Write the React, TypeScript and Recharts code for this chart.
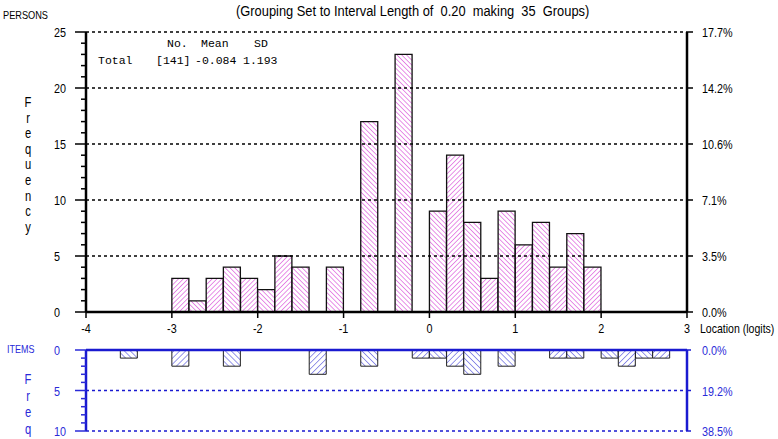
import React from 'react';
import { BarChart, Bar, XAxis, YAxis, Cell, ReferenceLine } from 'recharts';

// ---- data ----
const BIN_START = -4;
const BIN_WIDTH = 0.2;
// 35 groups, lower edges -4.0, -3.8, ... 2.8
const personCounts = [
  0, 0, 0, 0, 0, 3, 1, 3, 4, 3, 2, 5, 4, 0, 4, 0, 17, 0, 23, 0,
  9, 14, 8, 3, 9, 6, 8, 4, 7, 4, 0, 0, 0, 0, 0,
];
const itemCounts = [
  0, 0, 1, 0, 0, 2, 0, 0, 2, 0, 0, 0, 0, 3, 0, 0, 2, 0, 0, 1,
  1, 2, 3, 0, 2, 0, 0, 1, 1, 0, 1, 2, 1, 1, 0,
];
const xTicks = [-4, -3, -2, -1, 0, 1, 2, 3];
const personTicks = Array.from({ length: 26 }, (_, i) => i);
const personMajor = [0, 5, 10, 15, 20, 25];
const itemTicks = Array.from({ length: 11 }, (_, i) => i);
const itemMajor = [0, 5, 10];
const titleText = '(Grouping Set to Interval Length of  0.20  making  35  Groups)';
const statsHeader = [
  { t: 'No.', x: 167 },
  { t: 'Mean', x: 201 },
  { t: 'SD', x: 254 },
];
const statsRow = [
  { t: 'Total', x: 98 },
  { t: '[141]', x: 156 },
  { t: '-0.084', x: 195 },
  { t: '1.193', x: 243 },
];
const freqLetters = ['F', 'r', 'e', 'q', 'u', 'e', 'n', 'c', 'y'];
const freqShort = ['F', 'r', 'e', 'q'];

const totalPersons = personCounts.reduce((a, b) => a + b, 0);
const totalItems = itemCounts.reduce((a, b) => a + b, 0);

const rows = personCounts.map((c, i) => ({
  x: +(BIN_START + BIN_WIDTH * (i + 0.5)).toFixed(2),
  persons: c > 0 ? c : null,
  items: itemCounts[i] > 0 ? itemCounts[i] : null,
}));

// ---- styles ----
const SANS = '"Liberation Sans", Arial, sans-serif';
const MONO = '"Liberation Mono", "Courier New", monospace';
const BLUE = '#1a1ad0';
const BLUE_TEXT = '#2a2ad8';
const MAGENTA = '#d438d4';
const SQUEEZE = 0.8;
const FS = 13.5;

const NarrowText = ({ x, y, anchor, fill, children, dy = 0 }: any) => (
  <text
    x={0}
    y={0}
    dy={dy}
    transform={`translate(${x},${y}) scale(${SQUEEZE},1)`}
    textAnchor={anchor}
    fill={fill}
    fontSize={FS}
    fontFamily={SANS}
  >
    {children}
  </text>
);

const makeLeftTick = (major: number[], color: string) => (props: any) => {
  const { x, y, payload } = props;
  const v = payload.value;
  const isMajor = major.includes(v);
  return (
    <g>
      <line x1={x - (isMajor ? 11 : 5)} x2={x} y1={y} y2={y} stroke={color} strokeWidth={1.5} />
      {isMajor && (
        <NarrowText x={x - 32} y={y} dy={5} anchor="start" fill={color}>
          {v}
        </NarrowText>
      )}
    </g>
  );
};

const makeRightTick = (color: string, fmt: (v: number) => string) => (props: any) => {
  const { x, y, payload } = props;
  return (
    <NarrowText x={x} y={y} dy={5} anchor="start" fill={color}>
      {fmt(payload.value)}
    </NarrowText>
  );
};

const bottomTick = (props: any) => {
  const { x, y, payload } = props;
  return (
    <NarrowText x={x} y={y} dy={11} anchor="middle" fill="#000">
      {payload.value}
    </NarrowText>
  );
};

const Hatch = ({ id, color, dir, gap, w }: { id: string; color: string; dir: number; gap: number; w: number }) => (
  <pattern id={id} patternUnits="userSpaceOnUse" width={gap} height={gap} patternTransform={`rotate(${dir})`}>
    <rect x={0} y={0} width={gap} height={gap} fill="#fff" />
    <line x1={0} y1={0} x2={0} y2={gap} stroke={color} strokeWidth={w} />
  </pattern>
);

const abs = (left: number, top: number, extra: React.CSSProperties = {}): React.CSSProperties => ({
  position: 'absolute',
  left,
  top,
  whiteSpace: 'pre',
  ...extra,
});

const narrowDiv = (left: number, top: number, size: number, color: string, scale = SQUEEZE): React.CSSProperties =>
  abs(left, top, {
    fontFamily: SANS,
    fontSize: size,
    lineHeight: `${size + 2}px`,
    color,
    transform: `scaleX(${scale})`,
    transformOrigin: '0 0',
  });

const pctPersons = (v: number) => ((v / totalPersons) * 100).toFixed(1) + '%';
const pctItems = (v: number) => ((v / totalItems) * 100).toFixed(1) + '%';

export default function App() {
  return (
    <div style={{ position: 'absolute', left: 0, top: 0, width: 778, height: 439, overflow: 'hidden', background: '#fff' }}>
      {/* Top chart: persons */}
      <div style={{ position: 'absolute', left: 0, top: 0 }}>
        <BarChart width={778} height={340} data={rows} margin={{ top: 32, right: 0, bottom: 0, left: 0 }} barCategoryGap={0} barGap={0}>
          <defs>
            <Hatch id="pUp" color={MAGENTA} dir={45} gap={3.4} w={1.1} />
            <Hatch id="pDown" color={MAGENTA} dir={-45} gap={3.4} w={1.1} />
          </defs>
          <XAxis
            dataKey="x"
            type="number"
            domain={[-4, 3]}
            ticks={xTicks}
            interval={0}
            allowDataOverflow
            height={28}
            tickSize={6}
            tickMargin={4}
            axisLine={{ stroke: '#000', strokeWidth: 2.5 }}
            tickLine={{ stroke: '#000', strokeWidth: 1.5 }}
            tick={bottomTick}
          />
          <YAxis
            yAxisId="left"
            domain={[0, 25]}
            ticks={personTicks}
            interval={0}
            allowDataOverflow
            width={86}
            tickSize={0}
            tickMargin={0}
            axisLine={{ stroke: '#000', strokeWidth: 2.5 }}
            tickLine={false}
            tick={makeLeftTick(personMajor, '#000')}
          />
          <YAxis
            yAxisId="right"
            orientation="right"
            domain={[0, 25]}
            ticks={personMajor}
            interval={0}
            allowDataOverflow
            width={91}
            tickSize={6}
            tickMargin={9}
            axisLine={{ stroke: '#000', strokeWidth: 2.5 }}
            tickLine={{ stroke: '#000', strokeWidth: 1.5 }}
            tick={makeRightTick('#000', pctPersons)}
          />
          <Bar yAxisId="left" dataKey="persons" isAnimationActive={false} stroke="#111" strokeWidth={1.3}>
            {rows.map((r, i) => (
              <Cell key={i} fill={i % 2 ? 'url(#pUp)' : 'url(#pDown)'} />
            ))}
          </Bar>
          {personMajor.slice(1).map((v) => (
            <ReferenceLine key={v} yAxisId="left" y={v} stroke="#000" strokeWidth={1.3} strokeDasharray="3 3" />
          ))}
        </BarChart>
      </div>

      {/* Bottom chart: items */}
      <div style={{ position: 'absolute', left: 0, top: 340 }}>
        <BarChart width={778} height={99} data={rows} margin={{ top: 10, right: 0, bottom: 8, left: 0 }} barCategoryGap={0} barGap={0}>
          <defs>
            <Hatch id="iUp" color={BLUE} dir={45} gap={4.2} w={0.9} />
            <Hatch id="iDown" color={BLUE} dir={-45} gap={4.2} w={0.9} />
          </defs>
          <XAxis dataKey="x" type="number" domain={[-4, 3]} ticks={xTicks} allowDataOverflow hide />
          <YAxis
            yAxisId="left"
            reversed
            domain={[0, 10]}
            ticks={itemTicks}
            interval={0}
            allowDataOverflow
            width={86}
            tickSize={0}
            tickMargin={0}
            axisLine={{ stroke: BLUE, strokeWidth: 2.5 }}
            tickLine={false}
            tick={makeLeftTick(itemMajor, BLUE_TEXT)}
          />
          <YAxis
            yAxisId="right"
            orientation="right"
            reversed
            domain={[0, 10]}
            ticks={itemMajor}
            interval={0}
            allowDataOverflow
            width={91}
            tickSize={4}
            tickMargin={11}
            axisLine={{ stroke: BLUE, strokeWidth: 2.5 }}
            tickLine={{ stroke: BLUE, strokeWidth: 1.5 }}
            tick={makeRightTick(BLUE_TEXT, pctItems)}
          />
          <Bar yAxisId="left" dataKey="items" isAnimationActive={false} stroke="#222" strokeWidth={1}>
            {rows.map((r, i) => (
              <Cell key={i} fill={i % 2 ? 'url(#iUp)' : 'url(#iDown)'} />
            ))}
          </Bar>
          <ReferenceLine yAxisId="left" y={0} stroke={BLUE} strokeWidth={2.5} />
          {itemMajor.slice(1).map((v) => (
            <ReferenceLine key={v} yAxisId="left" y={v} stroke={BLUE} strokeWidth={1.3} strokeDasharray="3 3" />
          ))}
        </BarChart>
      </div>

      {/* Text overlays */}
      <div style={narrowDiv(236, 2, 15.5, '#000', 0.83)}>{titleText}</div>
      <div style={narrowDiv(3, 9, 11.5, '#000', 0.8)}>PERSONS</div>
      {statsHeader.map((s) => (
        <div key={s.t} style={abs(s.x, 37, { fontFamily: MONO, fontSize: 11.5, lineHeight: '13px', color: '#000' })}>
          {s.t}
        </div>
      ))}
      {statsRow.map((s) => (
        <div key={s.t} style={abs(s.x, 54, { fontFamily: MONO, fontSize: 11.5, lineHeight: '13px', color: '#000' })}>
          {s.t}
        </div>
      ))}
      {freqLetters.map((c, i) => (
        <div key={i} style={abs(22, 95 + i * 15.6, { width: 12, textAlign: 'center', fontFamily: SANS, fontSize: 14, lineHeight: '15px', color: '#000', transform: 'scaleX(0.8)' })}>
          {c}
        </div>
      ))}
      <div style={narrowDiv(7, 343, 11.5, BLUE_TEXT, 0.78)}>ITEMS</div>
      {freqShort.map((c, i) => (
        <div key={i} style={abs(22, 372 + i * 16.5, { width: 12, textAlign: 'center', fontFamily: SANS, fontSize: 14, lineHeight: '15px', color: BLUE_TEXT, transform: 'scaleX(0.8)' })}>
          {c}
        </div>
      ))}
      <div style={narrowDiv(700, 321, 13.5, '#000', 0.78)}>Location (logits)</div>
    </div>
  );
}
